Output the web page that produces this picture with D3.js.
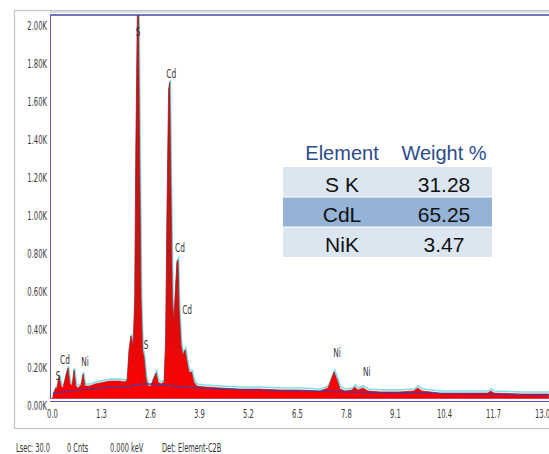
<!DOCTYPE html>
<html><head><meta charset="utf-8">
<script src="https://cdn.jsdelivr.net/npm/d3@7"></script>
<style>
html,body{margin:0;padding:0;background:#fff;}
svg{display:block;}
.cond{font-family:'DejaVu Sans Condensed','DejaVu Sans',sans-serif;}
</style></head>
<body>
<svg id="c" width="549" height="454"></svg>
<script>
// spectrum: energy (keV) and counts
const energy = [0.05,0.11,0.16,0.21,0.27,0.32,0.40,0.45,0.50,0.56,0.61,0.66,0.72,0.80,0.85,0.90,1.03,1.17,1.30,1.43,1.56,1.70,1.83,1.96,2.02,2.07,2.12,2.18,2.22,2.25,2.29,2.32,2.35,2.39,2.43,2.47,2.52,2.57,2.65,2.73,2.79,2.84,2.92,3.00,3.04,3.08,3.12,3.15,3.17,3.22,3.26,3.30,3.34,3.37,3.40,3.45,3.50,3.56,3.61,3.66,3.73,3.79,3.87,4.08,4.48,5.01,5.54,6.07,6.60,7.14,7.35,7.43,7.51,7.59,7.67,7.80,7.98,8.06,8.14,8.28,8.41,8.73,9.26,9.63,9.73,9.84,10.32,11.11,11.59,11.67,11.75,12.44,13.20];
const counts = [10,47,53,111,63,53,121,158,79,63,147,63,53,68,126,63,63,74,79,84,89,89,89,84,95,253,326,279,516,1305,2016,2042,1305,516,253,211,105,63,63,105,132,84,74,84,305,1042,1621,1663,1305,516,411,568,716,726,463,279,226,253,189,137,137,84,63,58,53,47,47,42,42,37,53,95,137,95,47,37,42,58,42,53,37,32,32,37,53,37,26,26,26,37,26,21,21];
// background fit line
const bgEnergy = [0.05,0.8,1.3,2.1,2.5,3.0,3.9,6.6,9.3,13.2];
const bgCounts = [26,42,53,63,74,68,53,37,26,16];
// peak labels
const peakText = ["S","Cd","Cd","Cd","S","Ni","Ni","S","Cd","Ni"];
const peakE = [2.31,3.19,3.42,3.61,2.52,7.59,8.38,0.19,0.37,0.90];
const peakC = [1926,1705,789,463,279,237,132,116,195,189];
// axes
const xTicks = [0,1.3,2.6,3.9,5.2,6.5,7.8,9.1,10.4,11.7,13.0];
const yTicks = [0,200,400,600,800,1000,1200,1400,1600,1800,2000];
// table
const tableHeader = ["Element","Weight %"];
const tableElements = ["S K","CdL","NiK"];
const tableWeights = ["31.28","65.25","3.47"];
const footer = ["Lsec: 30.0","0 Cnts","0.000 keV","Det: Element-C2B"];

const svg = d3.select("#c");
const x = d3.scaleLinear().domain([0,13]).range([51,541]);
const y = d3.scaleLinear().domain([0,2000]).range([398,18]);

// frame
svg.append("rect").attr("x",14.5).attr("y",10.5).attr("width",560).attr("height",418)
  .attr("fill","none").attr("stroke","#c4c4c4").attr("stroke-width",1.2);

const defs = svg.append("defs");
defs.append("clipPath").attr("id","plot").append("rect")
  .attr("x",50).attr("y",15).attr("width",500).attr("height",383);
const grad = defs.append("linearGradient").attr("id","rg")
  .attr("gradientUnits","userSpaceOnUse").attr("x1",0).attr("x2",0).attr("y1",398).attr("y2",250);
grad.append("stop").attr("offset",0).attr("stop-color","#ff0000");
grad.append("stop").attr("offset",0.35).attr("stop-color","#e80808");
grad.append("stop").attr("offset",1).attr("stop-color","#c01616");

const pts = energy.map((e,i)=>[e,counts[i]]);
const g = svg.append("g").attr("clip-path","url(#plot)");
const line = d3.line().x(d=>x(d[0])).y(d=>y(d[1]));
const area = d3.area().x(d=>x(d[0])).y0(y(0)).y1(d=>y(d[1]));

g.append("path").datum(pts).attr("d",line).attr("fill","none")
  .attr("stroke","#7fdde6").attr("stroke-width",1.6).attr("transform","translate(0.6,-2)");
g.append("path").datum(pts).attr("d",area).attr("fill","url(#rg)")
  .attr("stroke","#a8141c").attr("stroke-width",0.7);
const bg = bgEnergy.map((e,i)=>[e,bgCounts[i]]);
g.append("path").datum(bg).attr("d",d3.line().curve(d3.curveMonotoneX).x(d=>x(d[0])).y(d=>y(d[1])))
  .attr("fill","none").attr("stroke","#4b3a9a").attr("stroke-width",1.2);

// plot borders
svg.append("line").attr("x1",50).attr("x2",549).attr("y1",12).attr("y2",12).attr("stroke","#b8b8c8").attr("stroke-width",1);
svg.append("line").attr("x1",50).attr("x2",549).attr("y1",15).attr("y2",15).attr("stroke","#4545a8").attr("stroke-width",1.6);
svg.append("line").attr("x1",50.5).attr("x2",50.5).attr("y1",15).attr("y2",399).attr("stroke","#5a5ab0").attr("stroke-width",1);
svg.append("line").attr("x1",50).attr("x2",549).attr("y1",398.5).attr("y2",398.5).attr("stroke","#e04050").attr("stroke-width",1.2);
svg.append("line").attr("x1",50).attr("x2",549).attr("y1",401.5).attr("y2",401.5).attr("stroke","#5050b0").attr("stroke-width",1.2);

// axes
const yAx = svg.append("g").attr("class","cond").attr("transform","translate(47,0)")
  .call(d3.axisLeft(y).tickValues(yTicks).tickSize(0).tickPadding(0).tickFormat(d=>(d/1000).toFixed(2)+"K"));
yAx.select(".domain").remove();
yAx.selectAll("text").attr("dy","1.0em").attr("font-size",11.5).attr("fill","#3a3a3a").attr("font-family",null)
  .attr("transform","scale(0.66,1)");

const xAx = svg.append("g").attr("class","cond").attr("transform","translate(1,403)")
  .call(d3.axisBottom(x).tickValues(xTicks).tickSize(0).tickPadding(7).tickFormat(d3.format(".1f")));
xAx.select(".domain").remove();
xAx.selectAll("text").attr("font-size",11.5).attr("fill","#3a3a3a").attr("font-family",null)
  .attr("transform","scale(0.66,1)");

// peak labels
svg.append("g").attr("class","cond").selectAll("text").data(peakText).join("text")
  .attr("transform",(d,i)=>`translate(${x(peakE[i])},${y(peakC[i])}) scale(0.66,1)`)
  .attr("text-anchor","middle").attr("dominant-baseline","middle")
  .attr("font-size",12.5).attr("fill","#333").text(d=>d);

// table
const tx0 = 283, tw = 209, colX = [342,444];
const rowTop = [167,197,227], rowH = [30,30,30];
const rowFill = ["#dce6f1","#95b3d7","#dce6f1"];
const tg = svg.append("g").attr("font-family","'Liberation Sans',Arial,sans-serif");
tg.selectAll("rect").data(rowTop).join("rect")
  .attr("x",tx0).attr("y",d=>d).attr("width",tw).attr("height",(d,i)=>rowH[i])
  .attr("fill",(d,i)=>rowFill[i]);
tg.selectAll("line.sep").data([197,227]).join("line").attr("class","sep")
  .attr("x1",tx0).attr("x2",tx0+tw).attr("y1",d=>d).attr("y2",d=>d).attr("stroke","#fff").attr("stroke-width",1);
tg.selectAll("text.h").data(tableHeader).join("text").attr("class","h")
  .attr("x",(d,i)=>colX[i]).attr("y",160).attr("text-anchor","middle")
  .attr("font-size",20).attr("fill","#2b4c8c").text(d=>d);
tg.selectAll("text.e").data(tableElements).join("text").attr("class","e")
  .attr("x",colX[0]).attr("y",(d,i)=>rowTop[i]+25).attr("text-anchor","middle")
  .attr("font-size",21).attr("fill","#111").text(d=>d);
tg.selectAll("text.w").data(tableWeights).join("text").attr("class","w")
  .attr("x",colX[1]).attr("y",(d,i)=>rowTop[i]+25).attr("text-anchor","middle")
  .attr("font-size",21).attr("fill","#111").text(d=>d);

// footer
const fx = [16,67,110,162];
svg.append("g").attr("class","cond").selectAll("text").data(footer).join("text")
  .attr("transform",(d,i)=>`translate(${fx[i]},452) scale(0.59,1)`)
  .attr("font-size",12.5).attr("fill","#333").text(d=>d);
</script>
</body></html>
